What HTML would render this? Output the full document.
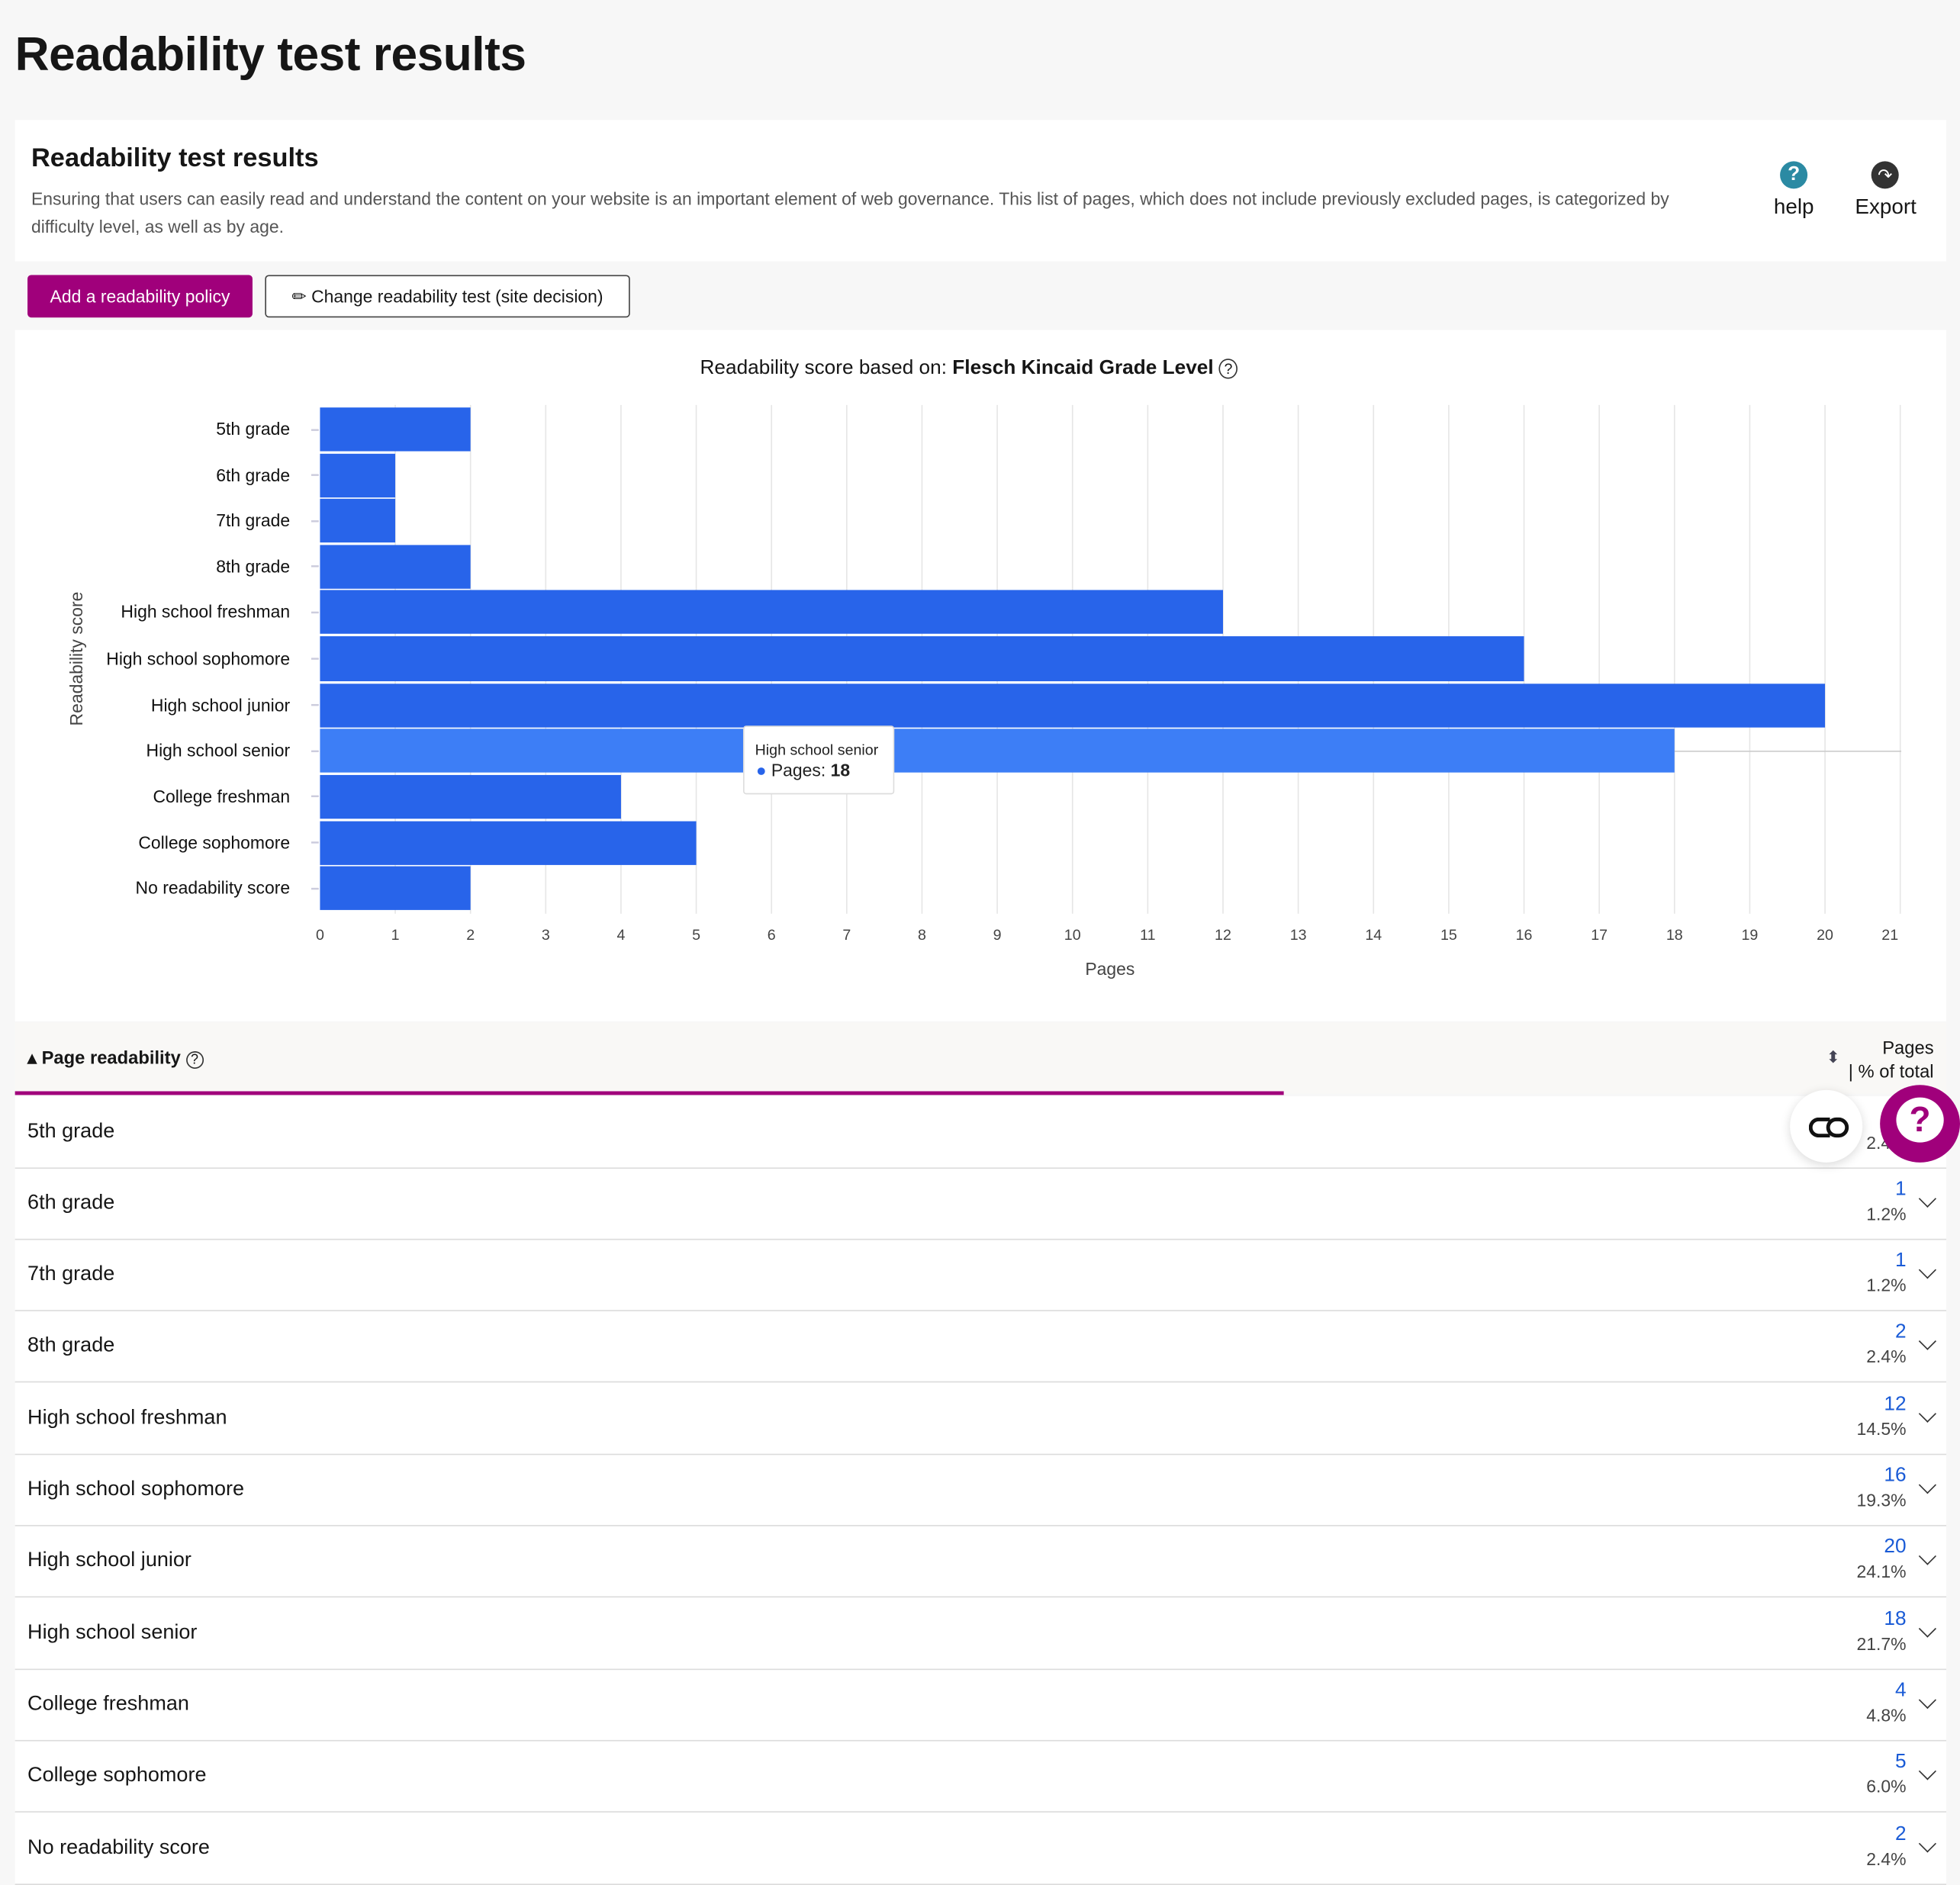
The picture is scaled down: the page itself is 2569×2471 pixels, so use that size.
<!DOCTYPE html>
<html><head><meta charset="utf-8"><style>
html,body{margin:0;padding:0;background:#f7f7f7;overflow:hidden;width:2569px;height:2471px}
#w{position:absolute;left:0;top:0;width:1568px;height:1508px;transform:scale(1.63839,1.63859);transform-origin:0 0;font-family:"Liberation Sans",sans-serif;color:#161616}
.a{position:absolute;white-space:nowrap}
.row{position:absolute;left:12px;width:1545px;height:57px;background:#fff}
.row:after{content:"";position:absolute;z-index:2;left:0;right:0;bottom:-1px;height:1.5px;background:#dcdcdc}
.row .l{position:absolute;left:10px;top:19px;font-size:16.5px}
.row .n{position:absolute;right:32px;top:9px;font-size:16px;color:#1a5bd6;text-align:right}
.row .p{position:absolute;right:32px;top:29px;font-size:14px;color:#444;text-align:right}
.row .c{position:absolute;right:10px;top:20px;width:9px;height:9px;border-right:1.6px solid #333;border-bottom:1.6px solid #333;transform:rotate(45deg)}
</style></head><body><div id="w">
<div class="a" style="left:12px;top:23px;font-size:38px;font-weight:bold;letter-spacing:-0.3px">Readability test results</div>
<div class="a" style="left:12px;top:96px;width:1545px;height:113px;background:#fff"></div>
<div class="a" style="left:25px;top:115px;font-size:21px;font-weight:bold">Readability test results</div>
<div class="a" style="left:25px;top:148px;font-size:14px;color:#555;line-height:22px;white-space:normal;width:1330px">Ensuring that users can easily read and understand the content on your website is an important element of web governance. This list of pages, which does not include previously excluded pages, is categorized by difficulty level, as well as by age.</div>
<div class="a" style="left:1424px;top:129px;width:22px;height:22px;border-radius:50%;background:#2b8aa3;color:#fff;font-size:16px;font-weight:bold;text-align:center;line-height:22px">?</div>
<div class="a" style="left:1419px;top:156px;font-size:17px">help</div>
<div class="a" style="left:1497px;top:129px;width:22px;height:22px;border-radius:50%;background:#333;color:#fff;font-size:14px;text-align:center;line-height:22px">↷</div>
<div class="a" style="left:1484px;top:156px;font-size:17px">Export</div>
<div class="a" style="left:12px;top:264px;width:1545px;height:553px;background:#fff"></div>
<div class="a" style="left:22px;top:220px;width:180px;height:34px;border-radius:3px;background:#a0007b;color:#fff;font-size:14px;line-height:34px;text-align:center">Add a readability policy</div>
<div class="a" style="left:212px;top:220px;width:290px;height:32px;border:1.3px solid #444;border-radius:3px;background:#fff;font-size:14px;line-height:32px;text-align:center">✏ Change readability test (site decision)</div>
<div class="a" style="left:560px;top:286px;font-size:16px">Readability score based on: <b>Flesch Kincaid Grade Level</b> <span style="font-size:12px;border:1px solid #333;border-radius:50%;padding:0 3px">?</span></div>
<svg class="a" style="left:0;top:0" width="1568" height="820" font-family="Liberation Sans,sans-serif">
<g stroke="#e6e6e6" stroke-width="1">
<line x1="316.2" y1="324" x2="316.2" y2="731"/><line x1="376.4" y1="324" x2="376.4" y2="731"/><line x1="436.6" y1="324" x2="436.6" y2="731"/><line x1="496.8" y1="324" x2="496.8" y2="731"/><line x1="557" y1="324" x2="557" y2="731"/><line x1="617.2" y1="324" x2="617.2" y2="731"/><line x1="677.4" y1="324" x2="677.4" y2="731"/><line x1="737.6" y1="324" x2="737.6" y2="731"/><line x1="797.8" y1="324" x2="797.8" y2="731"/><line x1="858" y1="324" x2="858" y2="731"/><line x1="918.2" y1="324" x2="918.2" y2="731"/><line x1="978.4" y1="324" x2="978.4" y2="731"/><line x1="1038.6" y1="324" x2="1038.6" y2="731"/><line x1="1098.8" y1="324" x2="1098.8" y2="731"/><line x1="1159" y1="324" x2="1159" y2="731"/><line x1="1219.2" y1="324" x2="1219.2" y2="731"/><line x1="1279.4" y1="324" x2="1279.4" y2="731"/><line x1="1339.6" y1="324" x2="1339.6" y2="731"/><line x1="1399.8" y1="324" x2="1399.8" y2="731"/><line x1="1460" y1="324" x2="1460" y2="731"/><line x1="1520.2" y1="324" x2="1520.2" y2="731"/>
<line x1="256" y1="601" x2="1521" y2="601" stroke="#ccc"/>
</g>
<g stroke="#ccd" stroke-width="1.5"><line x1="249" y1="344" x2="255" y2="344"/><line x1="249" y1="380" x2="255" y2="380"/><line x1="249" y1="417" x2="255" y2="417"/><line x1="249" y1="453" x2="255" y2="453"/><line x1="249" y1="490" x2="255" y2="490"/><line x1="249" y1="527" x2="255" y2="527"/><line x1="249" y1="564" x2="255" y2="564"/><line x1="249" y1="601" x2="255" y2="601"/><line x1="249" y1="637" x2="255" y2="637"/><line x1="249" y1="674" x2="255" y2="674"/><line x1="249" y1="711" x2="255" y2="711"/></g>
<g fill="#2864ea">
<rect x="256" y="326" width="120.4" height="35"/><rect x="256" y="363" width="60.2" height="35"/><rect x="256" y="399" width="60.2" height="35"/><rect x="256" y="436" width="120.4" height="35"/><rect x="256" y="472" width="722.4" height="35"/><rect x="256" y="509" width="963.2" height="36"/><rect x="256" y="547" width="1204" height="35"/><rect x="256" y="583" width="1083.6" height="35" fill="#3d7ef6"/><rect x="256" y="620" width="240.8" height="35"/><rect x="256" y="657" width="301" height="35"/><rect x="256" y="693" width="120.4" height="35"/>
</g>
<g font-size="14" fill="#111" text-anchor="end">
<text x="232" y="348">5th grade</text><text x="232" y="385">6th grade</text><text x="232" y="421">7th grade</text><text x="232" y="458">8th grade</text><text x="232" y="494">High school freshman</text><text x="232" y="532">High school sophomore</text><text x="232" y="569">High school junior</text><text x="232" y="605">High school senior</text><text x="232" y="642">College freshman</text><text x="232" y="679">College sophomore</text><text x="232" y="715">No readability score</text>
</g>
<g font-size="12" fill="#444" text-anchor="middle">
<text x="256" y="752">0</text><text x="316.2" y="752">1</text><text x="376.4" y="752">2</text><text x="436.6" y="752">3</text><text x="496.8" y="752">4</text><text x="557" y="752">5</text><text x="617.2" y="752">6</text><text x="677.4" y="752">7</text><text x="737.6" y="752">8</text><text x="797.8" y="752">9</text><text x="858" y="752">10</text><text x="918.2" y="752">11</text><text x="978.4" y="752">12</text><text x="1038.6" y="752">13</text><text x="1098.8" y="752">14</text><text x="1159" y="752">15</text><text x="1219.2" y="752">16</text><text x="1279.4" y="752">17</text><text x="1339.6" y="752">18</text><text x="1399.8" y="752">19</text><text x="1460" y="752">20</text><text x="1512" y="752">21</text>
<text x="888" y="780" font-size="14">Pages</text>
<text transform="translate(66,527) rotate(-90)" font-size="14">Readability score</text>
</g>
<rect x="595" y="581" width="120" height="54" fill="#fff" stroke="#ddd" rx="2"/>
<text x="604" y="604" font-size="12" fill="#222">High school senior</text>
<circle cx="609" cy="617" r="3" fill="#2864ea"/>
<text x="617" y="621" font-size="14" fill="#222">Pages: <tspan font-weight="bold">18</tspan></text>
</svg>
<div class="a" style="left:12px;top:818px;width:1545px;height:57px;background:#f9f8f6"></div>
<div class="a" style="left:22px;top:839px;font-size:14.5px;font-weight:bold">▴ Page readability <span style="font-weight:normal;font-size:11px;border:1px solid #333;border-radius:50%;padding:0 3px">?</span></div>
<div class="a" style="left:1461px;top:838px;font-size:13px;color:#445">⬍</div>
<div class="a" style="right:21px;top:830px;font-size:14.5px;text-align:right;line-height:19px">Pages<br>| % of total</div>
<div class="row" style="top:877px"><div class="l">5th grade</div><div class="n">2</div><div class="p">2.4%</div><div class="c"></div></div>
<div class="row" style="top:934px"><div class="l">6th grade</div><div class="n">1</div><div class="p">1.2%</div><div class="c"></div></div>
<div class="row" style="top:991px"><div class="l">7th grade</div><div class="n">1</div><div class="p">1.2%</div><div class="c"></div></div>
<div class="row" style="top:1048px"><div class="l">8th grade</div><div class="n">2</div><div class="p">2.4%</div><div class="c"></div></div>
<div class="row" style="top:1106px"><div class="l">High school freshman</div><div class="n">12</div><div class="p">14.5%</div><div class="c"></div></div>
<div class="row" style="top:1163px"><div class="l">High school sophomore</div><div class="n">16</div><div class="p">19.3%</div><div class="c"></div></div>
<div class="row" style="top:1220px"><div class="l">High school junior</div><div class="n">20</div><div class="p">24.1%</div><div class="c"></div></div>
<div class="row" style="top:1278px"><div class="l">High school senior</div><div class="n">18</div><div class="p">21.7%</div><div class="c"></div></div>
<div class="row" style="top:1335px"><div class="l">College freshman</div><div class="n">4</div><div class="p">4.8%</div><div class="c"></div></div>
<div class="row" style="top:1392px"><div class="l">College sophomore</div><div class="n">5</div><div class="p">6.0%</div><div class="c"></div></div>
<div class="row" style="top:1450px"><div class="l">No readability score</div><div class="n">2</div><div class="p">2.4%</div><div class="c"></div></div>
<div class="a" style="left:12px;top:873px;width:1015px;height:3px;background:#a0007b;z-index:3"></div>
<div class="a" style="z-index:5;left:1432px;top:872px;width:58px;height:58px;border-radius:50%;background:#fff;box-shadow:0 2px 8px rgba(0,0,0,.15)"></div>
<div class="a" style="z-index:5;left:1447px;top:894px;width:14px;height:10px;border:3px solid #111;border-right:none;border-radius:8px 0 0 8px"></div>
<div class="a" style="z-index:5;left:1461px;top:894px;width:12px;height:10px;border:3px solid #111;border-radius:8px"></div>
<div class="a" style="z-index:5;left:1504px;top:868px;width:64px;height:62px;border-radius:50%;background:#a0007b"></div>
<div class="a" style="z-index:5;left:1517px;top:878px;width:38px;height:36px;border-radius:50%;background:#fff;color:#a0007b;font-size:28px;font-weight:bold;text-align:center;line-height:36px">?</div>
</div></body></html>
